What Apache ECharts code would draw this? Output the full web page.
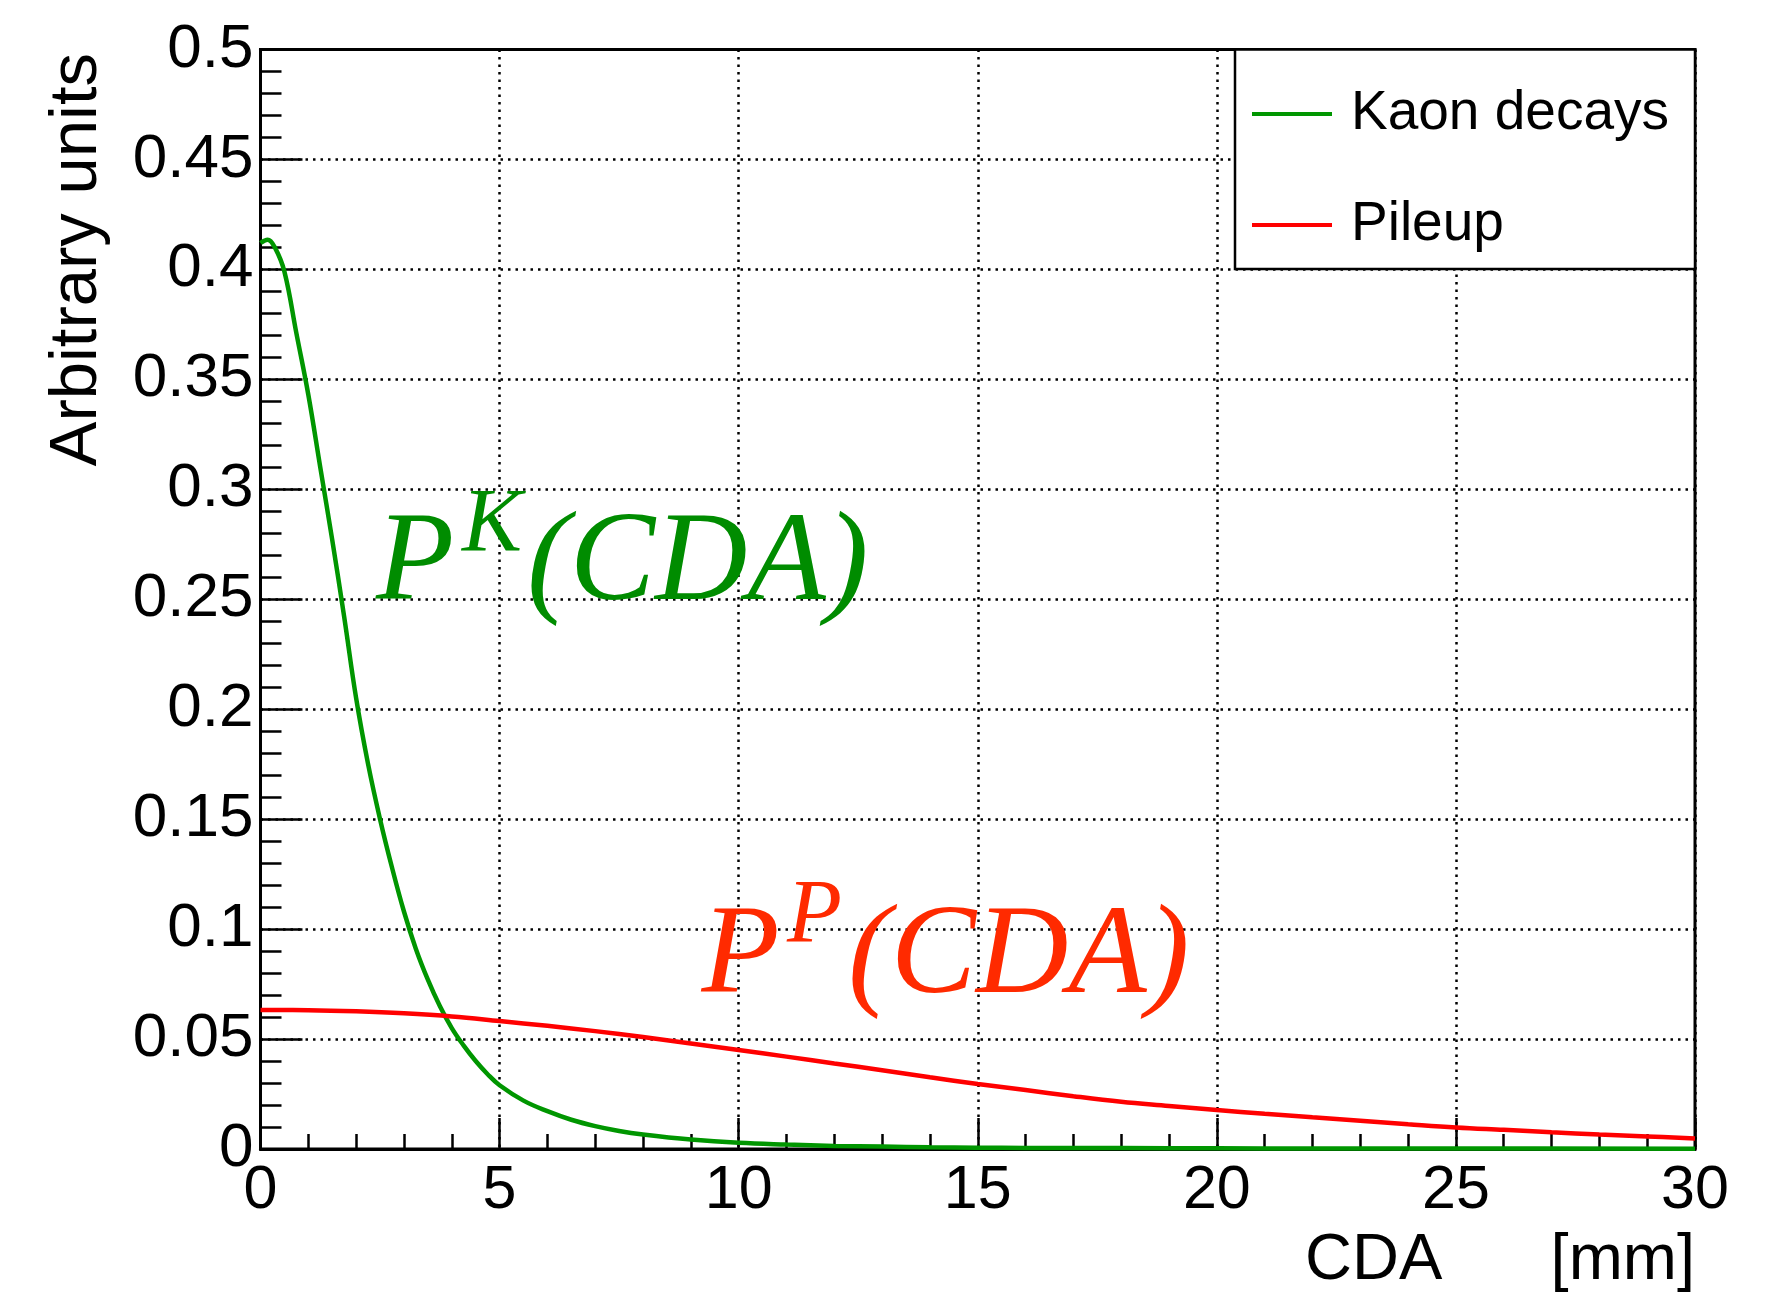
<!DOCTYPE html>
<html>
<head>
<meta charset="utf-8">
<script src="https://cdn.jsdelivr.net/npm/echarts@6/dist/echarts.min.js"></script>
<style>
  html, body { margin: 0; padding: 0; background: #fff; }
  #main { width: 1768px; height: 1312px; }
</style>
</head>
<body>
<div id="main"></div>
<script>
// Kaon decays
var kaonX = [0, 0.15, 0.3, 0.5, 0.75, 1, 1.25, 1.5, 1.75, 2, 2.25, 2.5, 2.75, 3, 3.25, 3.5, 3.75, 4, 4.25, 4.5, 4.75, 5,
  5.5, 6, 6.5, 7, 7.5, 8, 9, 10, 11, 12, 13, 14, 15, 16, 18, 20, 22, 25, 30];
var kaonY = [0.412, 0.4135, 0.410, 0.399, 0.371, 0.343, 0.310, 0.277, 0.242, 0.205, 0.175, 0.150, 0.128, 0.108, 0.091,
  0.077, 0.065, 0.055, 0.047, 0.040, 0.034, 0.029, 0.022, 0.0172, 0.0133, 0.0104, 0.0082, 0.0066, 0.0043, 0.0028,
  0.0020, 0.0014, 0.0011, 0.0008, 0.0006, 0.0005, 0.0004, 0.0003, 0.0002, 0.0002, 0.0001];

// Pileup
var pileX = [0, 1, 2, 3, 4, 5, 6, 7, 8, 9, 10, 11, 12, 13, 14, 15, 16, 17, 18, 19, 20, 21, 22, 23, 24, 25, 26, 27, 28, 29, 30];
var pileY = [0.0632, 0.0631, 0.0626, 0.0617, 0.0603, 0.0582, 0.0560, 0.0536, 0.0509, 0.0480, 0.0450, 0.0420, 0.0389,
  0.0358, 0.0326, 0.0296, 0.0268, 0.0240, 0.0215, 0.0196, 0.0177, 0.0160, 0.0144, 0.0129, 0.0113, 0.0098, 0.0087,
  0.0076, 0.0066, 0.0057, 0.0048];

var seriesNames = ['Kaon decays', 'Pileup'];
var xTitle = 'CDA      [mm]';
var yTitle = 'Arbitrary units';

function pairs(xs, ys) {
  return xs.map(function (x, i) { return [x, ys[i]]; });
}

var sans = '"Liberation Sans", Arial, Helvetica, sans-serif';
var serif = '"Liberation Serif", "Times New Roman", serif';
var green = '#009600', greenText = '#008c00';
var red = '#ff0000', redText = '#ff2a00';

var gridLine = { show: true, lineStyle: { color: '#000', width: 2.5, type: [2.5, 5] } };

var chart = echarts.init(document.getElementById('main'), null, { renderer: 'canvas' });

// small helper for the formula labels drawn on the plot
function formula(x, y, txt, size, col) {
  return { type: 'text', x: x, y: y, z: 5,
    style: { text: txt, font: 'italic ' + size + 'px ' + serif, fill: col, align: 'left', verticalAlign: 'bottom' } };
}

var option = {
  animation: false,
  backgroundColor: '#fff',
  grid: {
    left: 260.5, right: 73, top: 49.5, bottom: 163,
    show: true, borderColor: '#000', borderWidth: 3
  },
  xAxis: {
    type: 'value',
    min: 0, max: 30, interval: 5,
    axisLine: { show: true, lineStyle: { color: '#000', width: 3 } },
    axisTick: { show: true, inside: true, length: 31, lineStyle: { color: '#000', width: 2.5 } },
    minorTick: { show: true, splitNumber: 5, length: 15, lineStyle: { color: '#000', width: 2.5 } },
    axisLabel: { fontFamily: sans, fontSize: 61, color: '#000', margin: 12 },
    splitLine: gridLine
  },
  yAxis: {
    type: 'value',
    min: 0, max: 0.5, interval: 0.05,
    axisLine: { show: true, lineStyle: { color: '#000', width: 3 } },
    axisTick: { show: true, inside: true, length: 42, lineStyle: { color: '#000', width: 2.5 } },
    minorTick: { show: true, splitNumber: 5, length: 21, lineStyle: { color: '#000', width: 2.5 } },
    axisLabel: { fontFamily: sans, fontSize: 62, color: '#000', margin: 7 },
    splitLine: gridLine
  },
  legend: {
    orient: 'vertical',
    left: 1247, top: 79,
    z: 6,
    itemWidth: 80, itemHeight: 60, itemGap: 51,
    icon: 'path://M0,28 L80,28 L80,32 L0,32 Z',
    textStyle: { fontFamily: sans, fontSize: 55, color: '#000', lineHeight: 60, padding: [0, 0, 0, 14] },
    data: seriesNames
  },
  graphic: [
    // legend frame
    { type: 'rect', z: 5, shape: { x: 1235, y: 49.5, width: 460, height: 219.5 },
      style: { fill: '#fff', stroke: '#000', lineWidth: 2.5 } },
    // axis titles
    { type: 'text', x: 78, y: 53, rotation: Math.PI / 2, z: 5,
      style: { text: yTitle, font: '67px ' + sans, fill: '#000', align: 'right', verticalAlign: 'middle' } },
    { type: 'text', x: 1695, y: 1261, z: 5,
      style: { text: xTitle, font: '65px ' + sans, fill: '#000', align: 'right', verticalAlign: 'middle' } },
    // P^K(CDA)
    formula(376, 629.5, 'P', 128, greenText),
    formula(462, 572, 'K', 90, greenText),
    formula(527, 629.5, '(CDA)', 128, greenText),
    // P^P(CDA)
    formula(701.5, 1022.5, 'P', 128, redText),
    formula(787, 963, 'P', 90, redText),
    formula(848, 1022.5, '(CDA)', 128, redText)
  ],
  series: [
    {
      name: seriesNames[0],
      type: 'line',
      data: pairs(kaonX, kaonY),
      showSymbol: false,
      symbol: 'none',
      smooth: 0.4,
      color: green,
      lineStyle: { color: green, width: 4.5 },
      z: 3
    },
    {
      name: seriesNames[1],
      type: 'line',
      data: pairs(pileX, pileY),
      showSymbol: false,
      symbol: 'none',
      smooth: 0.4,
      color: red,
      lineStyle: { color: red, width: 4.5 },
      z: 3
    }
  ]
};

chart.setOption(option);
</script>
</body>
</html>
